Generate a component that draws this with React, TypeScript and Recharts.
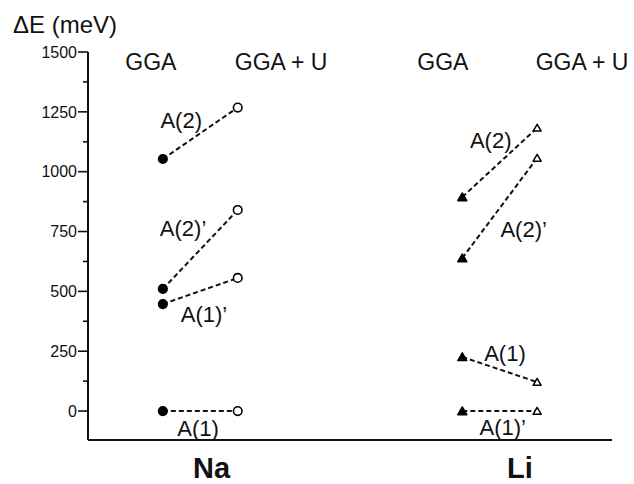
import React from "react";
import { LineChart, Line, XAxis, YAxis, ReferenceDot } from "recharts";

// ---- data (meV) ----
const naLabels = ["A(2)", "A(2)’", "A(1)’", "A(1)"];
const naGGA = [1053, 510, 447, 0];
const naGGAU = [1268, 840, 556, 0];

const liLabels = ["A(2)", "A(2)’", "A(1)", "A(1)’"];
const liGGA = [894, 639, 226, 0];
const liGGAU = [1183, 1057, 121, 0];

const systems = ["Na", "Li"];
const methods = ["GGA", "GGA + U"];
const yTicks = [0, 125, 250, 375, 500, 625, 750, 875, 1000, 1125, 1250, 1375, 1500];

// ---- layout (data-space positions of columns / annotations) ----
const naX = [1, 2];
const liX = [5, 6];
const systemTickX = [1.65, 5.77];
const headerPos = [
  [0.84, 1458],
  [2.58, 1458],
  [4.74, 1458],
  [6.6, 1458],
];
const naLabelPos = [
  [1.245, 1216],
  [1.27, 765],
  [1.55, 405],
  [1.47, -71],
];
const liLabelPos = [
  [5.38, 1132],
  [5.82, 760],
  [5.57, 242],
  [5.54, -67],
];

const FONT = "'Liberation Sans', Arial, Helvetica, sans-serif";

type Pt = { x: number; y: number };
const series: { id: string; kind: "circle" | "triangle"; data: Pt[] }[] = [
  ...naLabels.map((_, i) => ({
    id: "na" + i,
    kind: "circle" as const,
    data: [
      { x: naX[0], y: naGGA[i] },
      { x: naX[1], y: naGGAU[i] },
    ],
  })),
  ...liLabels.map((_, i) => ({
    id: "li" + i,
    kind: "triangle" as const,
    data: [
      { x: liX[0], y: liGGA[i] },
      { x: liX[1], y: liGGAU[i] },
    ],
  })),
];

const makeDot = (kind: "circle" | "triangle") => (props: any) => {
  const { cx, cy, index, key } = props;
  const filled = index === 0;
  if (kind === "circle") {
    return (
      <circle
        key={key ?? index}
        cx={cx}
        cy={cy}
        r={4.3}
        fill={filled ? "#000" : "#fff"}
        stroke="#000"
        strokeWidth={1.6}
      />
    );
  }
  const s = filled ? 4.5 : 4;
  const pts = `${cx - s},${cy + s * 0.8} ${cx + s},${cy + s * 0.8} ${cx},${cy - s * 0.9}`;
  return (
    <polygon
      key={key ?? index}
      points={pts}
      fill={filled ? "#000" : "#fff"}
      stroke="#000"
      strokeWidth={1.5}
      strokeLinejoin="round"
    />
  );
};

const AXIS_X = 88;

const YTick = (props: any) => {
  const { y, payload } = props;
  const v = payload.value;
  const major = v % 250 === 0;
  return (
    <g>
      <line
        x1={AXIS_X - (major ? 10 : 5)}
        x2={AXIS_X}
        y1={y}
        y2={y}
        stroke="#111"
        strokeWidth={1.6}
      />
      {major && (
        <text
          x={AXIS_X - 11}
          y={y}
          dy="0.36em"
          textAnchor="end"
          style={{ fontSize: 16, fontFamily: FONT }}
          fill="#111"
        >
          {v}
        </text>
      )}
    </g>
  );
};

const XTick = (props: any) => {
  const { x, index } = props;
  return (
    <text
      x={x}
      y={478}
      textAnchor="middle"
      style={{ fontSize: 29, fontWeight: "bold", fontFamily: FONT }}
      fill="#111"
    >
      {systems[index]}
    </text>
  );
};

const labelStyle = { fontSize: 22, fontFamily: FONT, fill: "#111" };
const headerStyle = { fontSize: 23, fontFamily: FONT, fill: "#111" };

export default function App() {
  return (
    <div style={{ position: "absolute", left: 0, top: 0, background: "#fff" }}>
      <LineChart
        width={634}
        height={484}
        margin={{ top: 52, right: 22, bottom: 0, left: 0 }}
      >
        <XAxis
          type="number"
          dataKey="x"
          domain={[0, 7]}
          ticks={systemTickX}
          tick={<XTick />}
          tickLine={false}
          axisLine={{ stroke: "#111", strokeWidth: 2 }}
          height={44}
          allowDataOverflow
        />
        <YAxis
          type="number"
          dataKey="y"
          domain={[-121, 1500]}
          ticks={yTicks}
          tick={<YTick />}
          tickLine={false}
          axisLine={{ stroke: "#111", strokeWidth: 2 }}
          width={88}
          interval={0}
          allowDataOverflow
          label={{
            content: () => (
              <text x={13} y={33} style={{ fontSize: 24, fontFamily: FONT }} fill="#111">
                ΔE (meV)
              </text>
            ),
          }}
        />
        {series.map((s) => (
          <Line
            key={s.id}
            data={s.data}
            dataKey="y"
            stroke="#111"
            strokeWidth={2}
            strokeDasharray="5 3"
            dot={makeDot(s.kind)}
            activeDot={false}
            isAnimationActive={false}
          />
        ))}
        {[...methods, ...methods].map((m, i) => (
          <ReferenceDot
            key={"h" + i}
            x={headerPos[i][0]}
            y={headerPos[i][1]}
            r={0}
            fill="none"
            stroke="none"
            label={{ value: m, position: "center", ...headerStyle }}
          />
        ))}
        {naLabels.map((l, i) => (
          <ReferenceDot
            key={"nl" + i}
            x={naLabelPos[i][0]}
            y={naLabelPos[i][1]}
            r={0}
            fill="none"
            stroke="none"
            label={{ value: l, position: "center", ...labelStyle }}
          />
        ))}
        {liLabels.map((l, i) => (
          <ReferenceDot
            key={"ll" + i}
            x={liLabelPos[i][0]}
            y={liLabelPos[i][1]}
            r={0}
            fill="none"
            stroke="none"
            label={{ value: l, position: "center", ...labelStyle }}
          />
        ))}
      </LineChart>
    </div>
  );
}
